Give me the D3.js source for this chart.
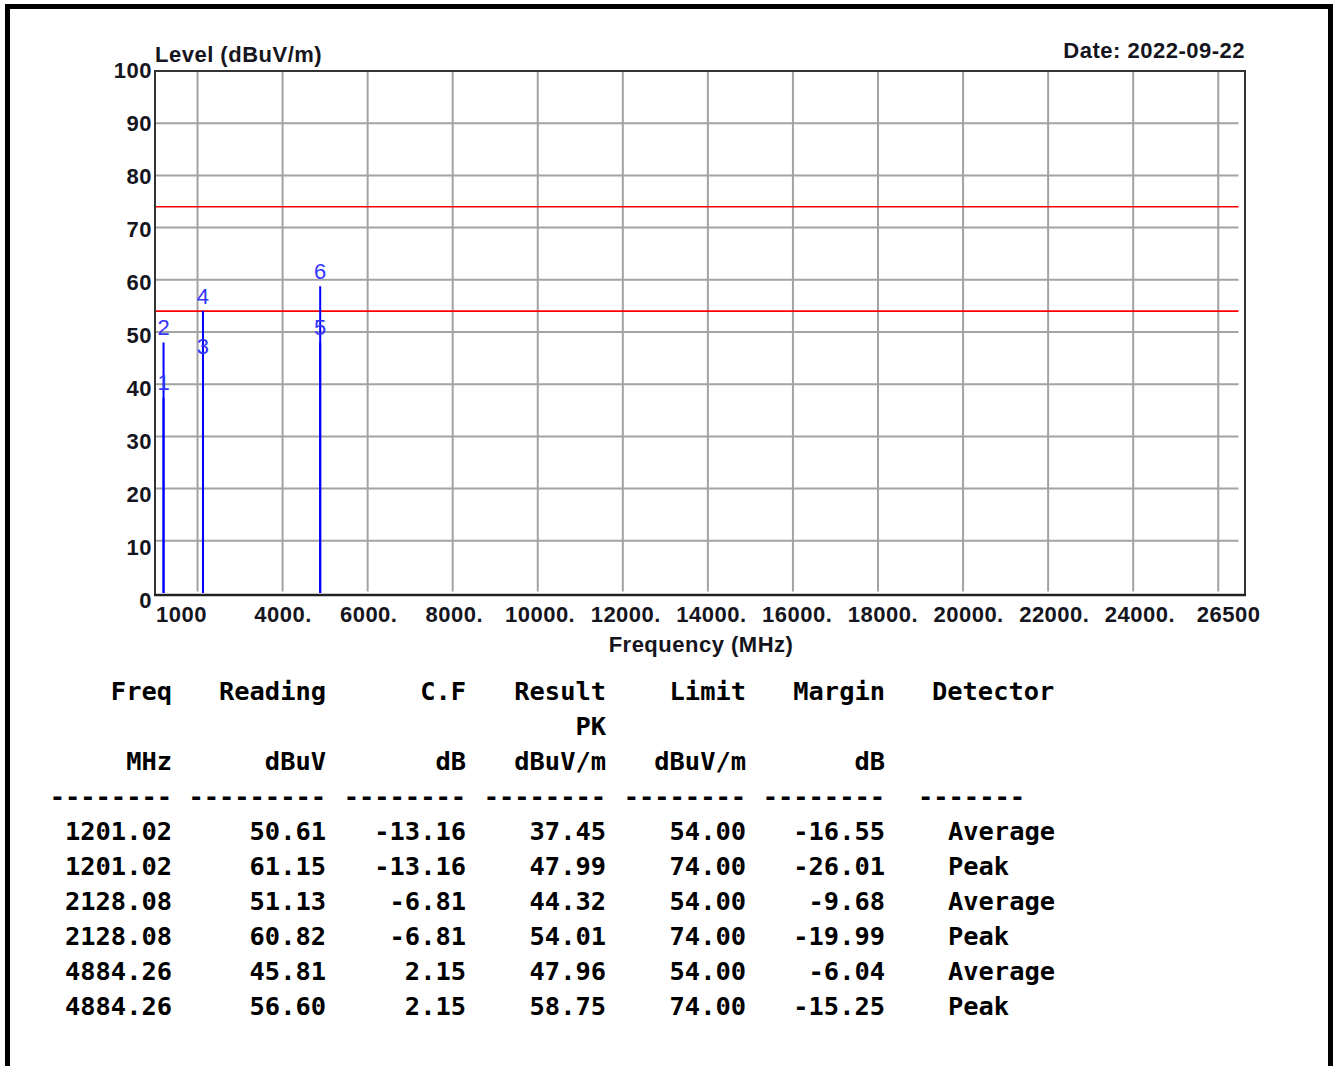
<!DOCTYPE html>
<html>
<head>
<meta charset="utf-8">
<script src="https://cdn.jsdelivr.net/npm/d3@7/dist/d3.min.js"></script>
<style>
  html, body { margin: 0; padding: 0; background: #fff; }
  svg { display: block; }
</style>
</head>
<body>
<script>
// Measured emissions (one row per detector reading)
const freqMHz   = [1201.02, 1201.02, 2128.08, 2128.08, 4884.26, 4884.26];
const readings  = [50.61, 61.15, 51.13, 60.82, 45.81, 56.60];
const corrFact  = [-13.16, -13.16, -6.81, -6.81, 2.15, 2.15];
const results   = [37.45, 47.99, 44.32, 54.01, 47.96, 58.75];
const limits    = [54.00, 74.00, 54.00, 74.00, 54.00, 74.00];
const margins   = [-16.55, -26.01, -9.68, -19.99, -6.04, -15.25];
const detectors = ["Average", "Peak", "Average", "Peak", "Average", "Peak"];

// Limit lines (average / peak)
const limitLines = [54, 74];

// Axis ticks
const yTicks = [0, 10, 20, 30, 40, 50, 60, 70, 80, 90, 100];
const xGridTicks = [2000, 4000, 6000, 8000, 10000, 12000, 14000, 16000, 18000, 20000, 22000, 24000, 26000];
const xLabelTicks = [1000, 4000, 6000, 8000, 10000, 12000, 14000, 16000, 18000, 20000, 22000, 24000, 26500];
const xLabelText  = ["1000", "4000.", "6000.", "8000.", "10000.", "12000.", "14000.", "16000.", "18000.", "20000.", "22000.", "24000.", "26500"];

// Table headings
const headTop   = ["Freq", "Reading", "C.F", "Result", "Limit", "Margin", "Detector"];
const headMid   = ["", "", "", "PK", "", "", ""];
const headUnits = ["MHz", "dBuV", "dB", "dBuV/m", "dBuV/m", "dB", ""];
const dashWidth = [8, 9, 8, 8, 8, 8, 7];

const W = 1333, H = 1066;
const svg = d3.select("body").append("svg").attr("width", W).attr("height", H);

svg.append("rect").attr("width", W).attr("height", H).attr("fill", "#fff");

// page border (left, top, right)
svg.append("path")
  .attr("d", "M7.5,1066 V6.5 H1330.5 V1066")
  .attr("fill", "none").attr("stroke", "#000").attr("stroke-width", 5);
svg.append("rect").attr("x", 1329).attr("y", 4).attr("width", 3).attr("height", H).attr("fill", "#000");

const plot = { left: 155, top: 71, right: 1245, bottom: 595 };

const x = d3.scaleLinear().domain([1000, 26500]).range([155, 1239.5]);
const y = d3.scaleLinear().domain([0, 100]).range([593, 71]);
// tick-label placement scales
const xLab = d3.scaleLinear().domain([4000, 24000]).range([283, 1140]);
const yLab = d3.scaleLinear().domain([0, 100]).range([600, 70]);

const g = svg.append("g");

// grid
g.selectAll(".hgrid").data(yTicks.filter(d => d > 0 && d < 100)).join("line")
  .attr("x1", x(1000)).attr("x2", x(26500) - 1)
  .attr("y1", d => y(d)).attr("y2", d => y(d))
  .attr("stroke", "#a3a3a3").attr("stroke-width", 2);
g.selectAll(".vgrid").data(xGridTicks).join("line")
  .attr("x1", d => x(d)).attr("x2", d => x(d))
  .attr("y1", y(100)).attr("y2", y(0) - 1.5)
  .attr("stroke", "#a3a3a3").attr("stroke-width", 2);

// limit lines
g.selectAll(".limit").data(limitLines).join("line")
  .attr("x1", x(1000)).attr("x2", x(26500) - 1)
  .attr("y1", d => y(d)).attr("y2", d => y(d))
  .attr("stroke", "#ff0000").attr("stroke-width", 1.6);

// marker stems
const marks = results.map((v, i) => ({ f: freqMHz[i], v, n: i + 1 }));
g.selectAll(".stem").data(marks).join("line")
  .attr("x1", d => x(d.f)).attr("x2", d => x(d.f))
  .attr("y1", y(0)).attr("y2", d => y(d.v))
  .attr("stroke", "#0000ff").attr("stroke-width", 2);
g.selectAll(".mlabel").data(marks).join("text")
  .attr("x", d => x(d.f)).attr("y", d => y(d.v) - 7.5)
  .attr("text-anchor", "middle")
  .attr("font-family", "'Liberation Sans', Arial, sans-serif").attr("font-size", 22)
  .attr("fill", "#3434ff")
  .text(d => d.n);

// frame
g.append("path")
  .attr("d", `M${plot.left},${plot.bottom} V${plot.top} H${plot.right} V${plot.bottom}`)
  .attr("fill", "none").attr("stroke", "#333").attr("stroke-width", 2);
g.append("line")
  .attr("x1", plot.left - 1).attr("x2", plot.right + 1)
  .attr("y1", plot.bottom).attr("y2", plot.bottom)
  .attr("stroke", "#222").attr("stroke-width", 2.6);

const labFont = "'Liberation Sans', Arial, sans-serif";
const labSize = 22;
const labSpacing = 0.5;

function labelStyle(sel) {
  return sel.attr("font-family", labFont).attr("font-weight", "bold")
    .attr("font-size", labSize).attr("letter-spacing", labSpacing)
    .attr("fill", "#151520");
}

// y tick labels
svg.selectAll(".ylab").data(yTicks).join("text")
  .attr("x", 152).attr("y", d => yLab(d) + 7.7)
  .attr("text-anchor", "end")
  .call(labelStyle)
  .text(d => d);

// x tick labels
svg.selectAll(".xlab").data(xLabelTicks).join("text")
  .attr("x", (d, i) => i === 0 ? x(d) + 1 : (i === xLabelTicks.length - 1 ? x(d) + 21 : xLab(d)))
  .attr("y", 622)
  .attr("text-anchor", (d, i) => i === 0 ? "start" : (i === xLabelTicks.length - 1 ? "end" : "middle"))
  .call(labelStyle)
  .text((d, i) => xLabelText[i]);

// titles
svg.append("text").attr("x", 701).attr("y", 652).attr("text-anchor", "middle")
  .call(labelStyle).text("Frequency (MHz)");
svg.append("text").attr("x", 155).attr("y", 62)
  .call(labelStyle).text("Level (dBuV/m)");
svg.append("text").attr("x", 1245).attr("y", 58).attr("text-anchor", "end")
  .call(labelStyle).text("Date: 2022-09-22");

// results table
const mono = "'DejaVu Sans Mono', 'Liberation Mono', monospace";
const colRight = [172, 326, 466, 606, 746, 885];
const detHeadX = 932, detX = 948, dashDetX = 918;
const rowY = i => 700 + i * 35;
const t = svg.append("g")
  .attr("font-family", mono).attr("font-weight", "bold").attr("font-size", 25.4)
  .attr("fill", "#000");

function cellRow(vals, r, detStart) {
  vals.forEach((v, c) => {
    if (v === "") return;
    const last = c === 6;
    t.append("text")
      .attr("x", last ? detStart : colRight[c])
      .attr("y", rowY(r))
      .attr("text-anchor", last ? "start" : "end")
      .attr("xml:space", "preserve")
      .text(v);
  });
}
cellRow(headTop, 0, detHeadX);
cellRow(headMid, 1, detHeadX);
cellRow(headUnits, 2, detHeadX);
cellRow(dashWidth.map(n => "-".repeat(n)), 3, dashDetX);

// fixed two decimals with a plain hyphen for negatives
const fmt = v => v.toFixed(2);
freqMHz.forEach((f, i) => {
  cellRow([fmt(f), fmt(readings[i]), fmt(corrFact[i]), fmt(results[i]),
           fmt(limits[i]), fmt(margins[i]), detectors[i]], 4 + i, detX);
});
</script>
</body>
</html>
